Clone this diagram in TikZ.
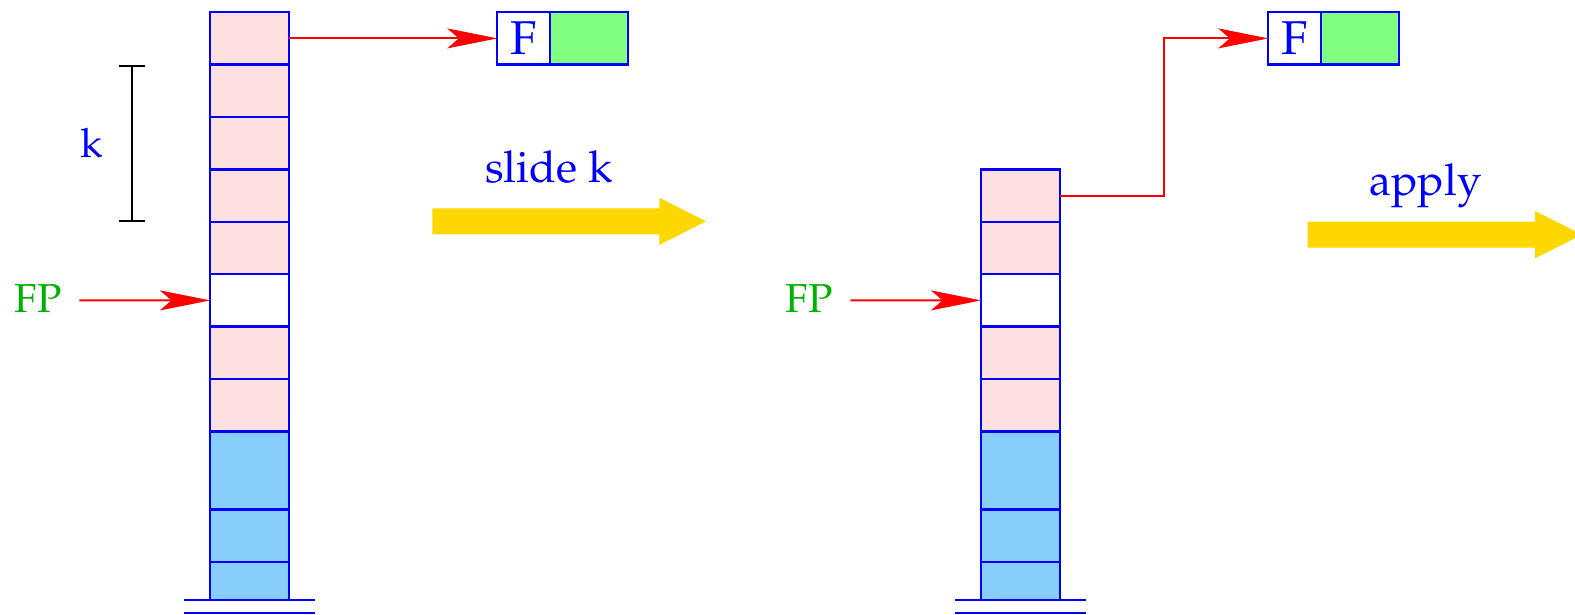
\documentclass[tikz,border=0pt]{standalone}
\usepackage[T1]{fontenc}
\usepackage{mathpazo}
\usetikzlibrary{arrows.meta}

\definecolor{cellpink}{RGB}{255,224,224}
\definecolor{cellblue}{RGB}{135,206,250}
\definecolor{valgreen}{RGB}{128,255,128}
\definecolor{fpgreen}{RGB}{0,178,0}
\definecolor{slidegold}{RGB}{255,215,0}

\tikzset{
  cell/.style={draw=blue, line width=1.3pt, rectangle, inner sep=0pt, outer sep=0pt,
               minimum width=1.58cm, anchor=north west},
  fcell/.style={draw=blue, line width=1.3pt, rectangle, inner sep=0pt, outer sep=0pt,
               minimum width=1.054cm, minimum height=1.048cm, anchor=north west,
               text=blue, font=\fontsize{27}{30}\selectfont},
  vcell/.style={draw=blue, line width=1.3pt, rectangle, inner sep=0pt, outer sep=0pt,
               minimum width=1.566cm, minimum height=1.048cm, anchor=north west, fill=valgreen},
  ground/.style={draw=blue, line width=1.3pt},
  ptr/.style={draw=red, line width=1.1pt, -{Stealth[length=1cm,width=0.4cm,inset=0.23cm]}},
  kbar/.style={draw=black, line width=1.2pt, {Bar[width=0.52cm]}-{Bar[width=0.52cm]}},
  fplabel/.style={text=fpgreen, inner sep=0pt, font=\fontsize{23}{26}\selectfont},
  klabel/.style={text=blue, inner sep=0pt, font=\fontsize{23}{26}\selectfont},
  steplabel/.style={text=blue, inner sep=0pt, anchor=base, font=\fontsize{25}{28}\selectfont},
  bigarrow/.style={fill=slidegold}
}

\begin{document}
\begin{tikzpicture}[x=0.02cm, y=-0.02cm]
\useasboundingbox (0,0) rectangle (1575,615);

% ---- first stack ----
\foreach \n/\top/\h/\col in {
  1/12.2/1.048/cellpink, 2/64.6/1.048/cellpink, 3/117/1.048/cellpink,
  4/169.4/1.048/cellpink, 5/221.8/1.048/cellpink, 6/274.2/1.048/white,
  7/326.6/1.048/cellpink, 8/379/1.048/cellpink, 9/431.4/1.564/cellblue,
  10/509.6/1.048/cellblue, 11/562/0.76/cellblue}
  \node[cell, minimum height=\h cm, fill=\col] (s1c\n) at (210,\top) {};
\draw[ground] ([xshift=-0.52cm]s1c11.south west) -- ([xshift=0.52cm]s1c11.south east);
\draw[ground] ([xshift=-0.52cm,yshift=-0.266cm]s1c11.south west) -- ([xshift=0.52cm,yshift=-0.266cm]s1c11.south east);

% closure F
\node[fcell] (f1) at (497.3,12.2) {F};
\node[vcell] (v1) at (f1.north east) {};
\draw[ptr] (s1c1.east) -- (f1.west);

% k bracket
\coordinate (kt) at ([xshift=-1.566cm]s1c2.north west);
\coordinate (kb) at ([xshift=-1.566cm]s1c5.north west);
\draw[kbar] (kt) -- (kb);
\node[klabel] (klab) at (92,143) {k};

% frame pointer
\node[fplabel] (fp1) at (38,299) {FP};
\coordinate (fp1tail) at (79.3,300.4);
\draw[ptr] (fp1tail) -- (s1c6.west);

% slide k
\fill[bigarrow] (432.3,208.3) -- (659.3,208.3) -- (659.3,197.7) -- (706,221.3)
  -- (659.3,245) -- (659.3,234.3) -- (432.3,234.3) -- cycle;
\node[steplabel] (slide) at (549,182.3) {slide k};

% ---- second stack ----
\foreach \n/\top/\h/\col in {
  1/169.4/1.048/cellpink, 2/221.8/1.048/cellpink, 3/274.2/1.048/white,
  4/326.6/1.048/cellpink, 5/379/1.048/cellpink, 6/431.4/1.564/cellblue,
  7/509.6/1.048/cellblue, 8/562/0.76/cellblue}
  \node[cell, minimum height=\h cm, fill=\col] (s2c\n) at (981,\top) {};
\draw[ground] ([xshift=-0.52cm]s2c8.south west) -- ([xshift=0.52cm]s2c8.south east);
\draw[ground] ([xshift=-0.52cm,yshift=-0.266cm]s2c8.south west) -- ([xshift=0.52cm,yshift=-0.266cm]s2c8.south east);

\node[fcell] (f2) at (1268.3,12.2) {F};
\node[vcell] (v2) at (f2.north east) {};
\coordinate (bend) at (1164.3,0);
\draw[ptr] (s2c1.east) -- (s2c1.east -| bend) |- (f2.west);

\node[fplabel] (fp2) at (809,299) {FP};
\coordinate (fp2tail) at (850.3,300.4);
\draw[ptr] (fp2tail) -- (s2c3.west);

% apply
\fill[bigarrow] (1307.7,221.7) -- (1535,221.7) -- (1535,211) -- (1582,234.7)
  -- (1535,258.3) -- (1535,247.7) -- (1307.7,247.7) -- cycle;
\node[steplabel] (apply) at (1425.5,195) {apply};
\end{tikzpicture}
\end{document}
